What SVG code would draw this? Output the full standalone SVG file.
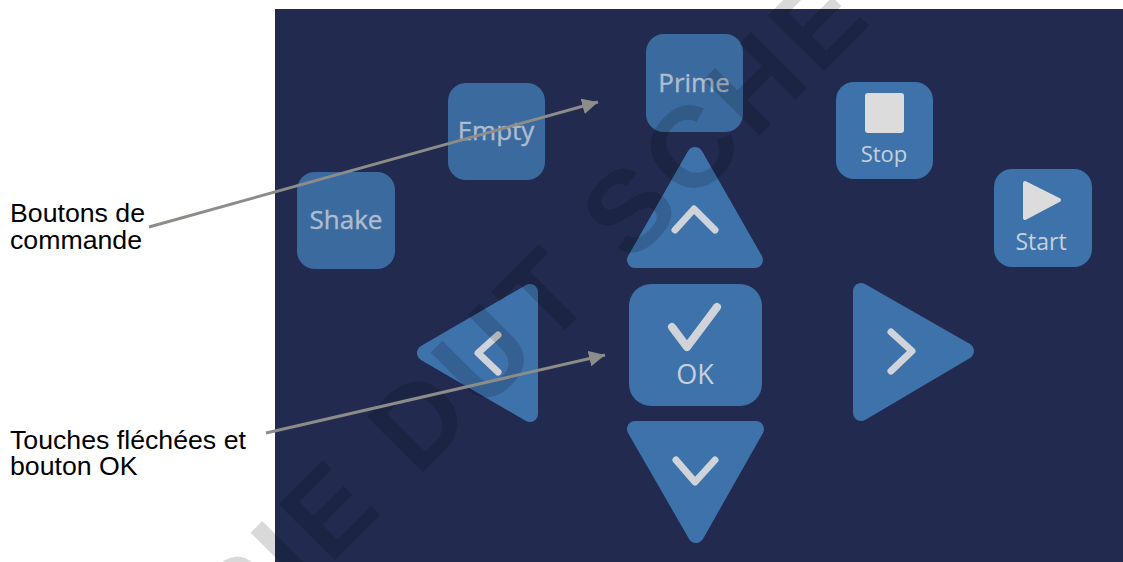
<svg xmlns="http://www.w3.org/2000/svg" width="1123" height="562" viewBox="0 0 1123 562">
<defs>
<marker id="ah" markerUnits="userSpaceOnUse" markerWidth="17" markerHeight="16" refX="16" refY="8" orient="auto"><path d="M0 0L16 8L0 16Z" fill="#8c8c88"/></marker>
</defs>
<style>
.lb{font-family:"Liberation Sans",Arial,sans-serif;font-size:26.7px;fill:#000}
.bt{fill:#3e72ab}
.dim{fill:#3b6a9e}
.tri{fill:#3e72ab;stroke:#3e72ab;stroke-width:16;stroke-linejoin:round}
.tx{font-family:"Open Sans","Noto Sans",sans-serif;font-size:26px;fill:#aebccf;stroke:#aebccf;stroke-width:.4;text-anchor:middle}
.tb{font-family:"Open Sans","Noto Sans",sans-serif;font-size:23px;fill:#c6d0dc;text-anchor:middle}
.ic{fill:none;stroke:#d0d4da;stroke-width:7;stroke-linecap:round;stroke-linejoin:round}
.wm{font-family:"Liberation Sans",Arial,sans-serif;font-weight:700;font-size:115px;letter-spacing:8px;fill:#000;fill-opacity:.15;stroke:#000;stroke-opacity:0}
.cn{stroke:#8c8c88;stroke-width:3;fill:none}
</style>
<rect width="1123" height="562" fill="#fff"/>
<rect x="275" y="9" width="848" height="553" fill="#222b4f"/>
<g id="shake"><rect class="dim" x="297" y="172" width="98" height="97" rx="18"/><text class="tx" x="346" y="229">Shake</text></g>
<g id="empty"><rect class="dim" x="448" y="83" width="97" height="97" rx="18"/><text class="tx" x="496" y="140">Empty</text></g>
<g id="prime"><rect class="dim" x="646" y="34" width="97" height="98" rx="18"/><text class="tx" x="694" y="92">Prime</text></g>
<g id="stop"><rect class="bt" x="836" y="82" width="97" height="97" rx="18"/><rect x="865" y="93" width="39" height="40" rx="3" fill="#dcdcdc"/><text class="tb" x="884" y="162" style="font-size:22px">Stop</text></g>
<g id="start"><rect class="bt" x="994" y="169" width="98" height="98" rx="18"/><path d="M1025 183L1059 200L1025 218Z" fill="#dcdcdc" stroke="#dcdcdc" stroke-width="4" stroke-linejoin="round"/><text class="tb" x="1041" y="250">Start</text></g>
<g id="up"><path class="tri" d="M695 155L635 260H755Z"/><path class="ic" d="M675 230L694 209L715 230"/></g>
<g id="ok"><rect class="bt" x="629" y="284" width="133" height="122" rx="22"/><path class="ic" style="stroke-width:8" d="M672 327L687 347L717 307"/><text class="tb" x="695" y="384" style="font-size:27px">OK</text></g>
<g id="down"><path class="tri" d="M696 535L635 429H756Z"/><path class="ic" d="M676 460L695 482L715 460"/></g>
<g id="left"><path class="tri" d="M425 353L530 292V414Z"/><path class="ic" d="M498 335L478 353L498 372"/></g>
<g id="right"><path class="tri" d="M861 291V413L966 351Z"/><path class="ic" d="M891 332L912 351L891 371"/></g>
<g id="watermark"><text class="wm" transform="translate(241 654) rotate(-45)">PIE DUT SCHE</text></g>
<g id="connectors">
<line class="cn" x1="149" y1="227" x2="598" y2="102" marker-end="url(#ah)"/>
<line class="cn" x1="266" y1="433" x2="605" y2="355" marker-end="url(#ah)"/>
</g>
<g id="labels">
<text class="lb" x="10" y="222">Boutons de</text><text class="lb" x="10" y="249">commande</text>
<text class="lb" x="10" y="449">Touches fléchées et</text><text class="lb" x="10" y="475">bouton OK</text>
</g>
</svg>
